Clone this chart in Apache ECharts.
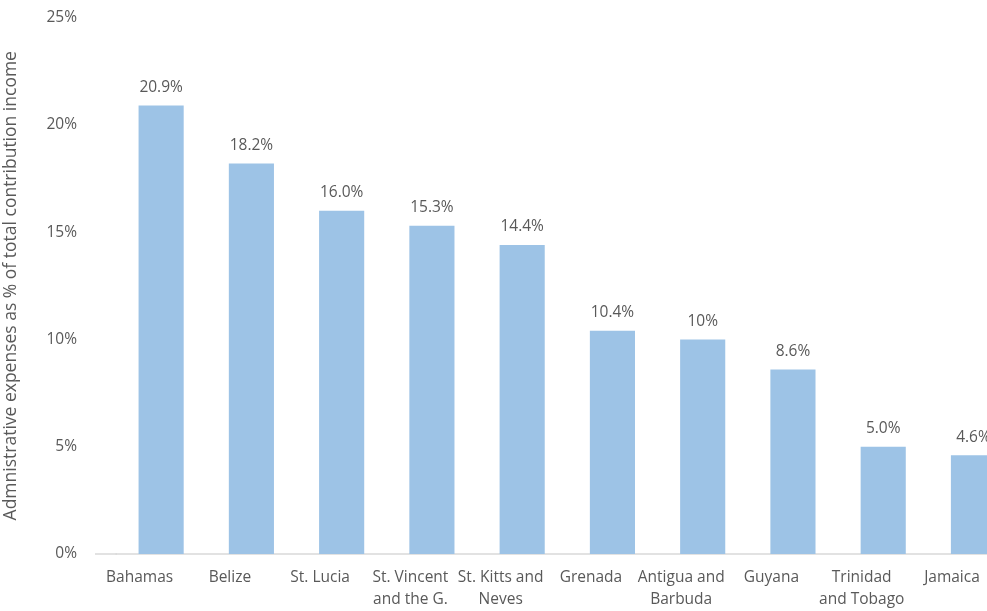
<!DOCTYPE html>
<html>
<head>
<meta charset="utf-8">
<script src="https://cdn.jsdelivr.net/npm/echarts@6/dist/echarts.min.js"></script>
<style>
  html, body { margin: 0; padding: 0; background: #ffffff; }
  #chart { width: 987px; height: 611px; }
</style>
</head>
<body>
<div id="chart"></div>
<script>
// Administrative expenses relative to contribution income, by country
const countries = [
  'Bahamas', 'Belize', 'St. Lucia', 'St. Vincent\nand the G.', 'St. Kitts and\nNeves',
  'Grenada', 'Antigua and\nBarbuda', 'Guyana', 'Trinidad\nand Tobago', 'Jamaica'
];
const expenseShare = [20.9, 18.2, 16.0, 15.3, 14.4, 10.4, 10, 8.6, 5.0, 4.6];
const valueLabels = ['20.9%', '18.2%', '16.0%', '15.3%', '14.4%', '10.4%', '10%', '8.6%', '5.0%', '4.6%'];
const yTicks = [0, 5, 10, 15, 20, 25];

const textColor = '#595959';
const font = 'Open Sans';
const labelSize = 15.5;

const chart = echarts.init(document.getElementById('chart'), null, { renderer: 'canvas' });

const gridLeft = 116;
const gridTop = 17.5;
const gridBottom = 57;
const bandWidth = 90.26;

chart.setOption({
  animation: false,
  backgroundColor: '#ffffff',
  grid: {
    left: gridLeft,
    top: gridTop,
    bottom: gridBottom,
    width: bandWidth * countries.length,
    containLabel: false,
    outerBoundsMode: 'none'
  },
  xAxis: {
    type: 'category',
    data: countries,
    axisLine: { show: true, lineStyle: { color: '#d9d9d9', width: 1.5 } },
    axisTick: { show: false },
    axisLabel: {
      color: textColor,
      fontFamily: font,
      fontSize: labelSize,
      lineHeight: 22,
      margin: 13,
      interval: 0,
      // category names sit slightly left of their bars
      padding: [0, 43, 0, 0]
    }
  },
  yAxis: {
    type: 'value',
    min: yTicks[0],
    max: yTicks[yTicks.length - 1],
    interval: yTicks[1] - yTicks[0],
    splitLine: { show: false },
    axisLine: { show: false },
    axisTick: { show: false },
    axisLabel: {
      color: textColor,
      fontFamily: font,
      fontSize: labelSize,
      margin: 39,
      formatter: v => v + '%'
    },
    name: 'Admnistrative expenses as % of total contribution income',
    nameLocation: 'middle',
    nameGap: 96,
    nameTextStyle: { color: textColor, fontFamily: font, fontSize: 17.5 }
  },
  series: [{
    type: 'bar',
    data: expenseShare,
    barWidth: '50%',
    itemStyle: { color: '#9dc3e6' },
    label: {
      show: true,
      position: 'top',
      distance: 10,
      color: textColor,
      fontFamily: font,
      fontSize: labelSize,
      formatter: p => valueLabels[p.dataIndex]
    }
  }],
  graphic: [{
    // axis baseline continues a little to the left of the first band
    type: 'line',
    shape: { x1: 95, y1: 611 - gridBottom, x2: gridLeft + 1, y2: 611 - gridBottom },
    style: { stroke: '#d9d9d9', lineWidth: 1.5 }
  }]
});
</script>
</body>
</html>
